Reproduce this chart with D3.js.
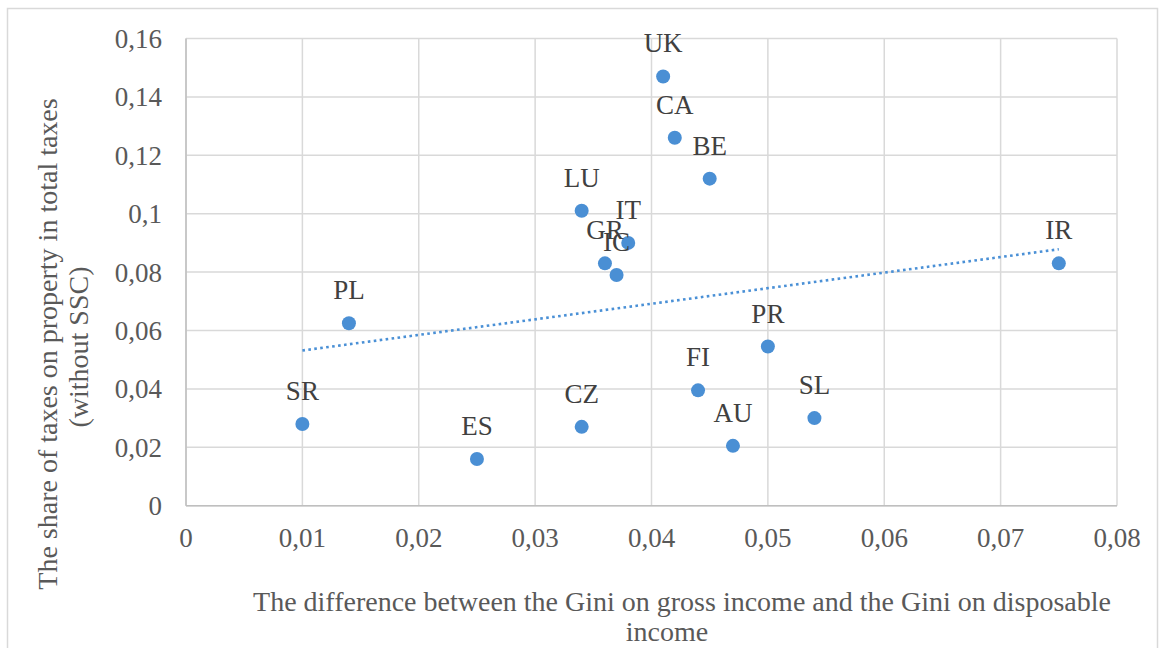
<!DOCTYPE html>
<html lang="en">
<head>
    <meta charset="UTF-8">
    <title>scatter</title>
    <script src="https://cdn.jsdelivr.net/npm/d3@7"></script>
    <style>
        body{ margin:0; background:#fff; }
        svg{ display:block; }
    </style>
</head>
<body>
</body>
<script type="text/javascript">

    // country codes, x = gini difference, y = share of property taxes
    let countries = ["UK","CA","BE","LU","IT","GR","IC","PL","SR","ES","CZ","FI","AU","PR","SL","IR"];
    let giniDiff  = [0.041,0.042,0.045,0.034,0.038,0.036,0.037,0.014,0.010,0.025,0.034,0.044,0.047,0.050,0.054,0.075];
    let propShare = [0.147,0.126,0.112,0.101,0.090,0.083,0.079,0.0625,0.028,0.016,0.027,0.0395,0.0205,0.0545,0.030,0.083];

    let xTicks = [0,0.01,0.02,0.03,0.04,0.05,0.06,0.07,0.08];
    let yTicks = [0,0.02,0.04,0.06,0.08,0.1,0.12,0.14,0.16];

    let xTitle = ["The difference between the Gini on gross income and the Gini on disposable","income"];
    let yTitle = ["The share of taxes on property in total taxes","(without SSC)"];

    let data = countries.map((c,i)=>({name:c, x:giniDiff[i], y:propShare[i]}));

    let font = "'Liberation Serif', 'DejaVu Serif', 'Times New Roman', serif";
    let width = 1159, height = 648;
    let svg = d3.select("body").append("svg")
        .attr("width",width)
        .attr("height",height)
        .attr("font-family",font);

    // outer frame
    svg.append("rect")
        .attr("x",7.5).attr("y",8.5)
        .attr("width",1150).attr("height",660)
        .attr("fill","none")
        .attr("stroke","#d9d9d9")
        .attr("stroke-width",1.5);

    let x = d3.scaleLinear().domain([0,0.08]).range([186,1117]);
    let y = d3.scaleLinear().domain([0,0.16]).range([505.7,38.5]);

    let fmt = v => v===0 ? "0" : String(+v.toFixed(2)).replace(".",",");

    // grid
    svg.append("g").selectAll("line").data(xTicks).join("line")
        .attr("x1",d=>x(d)).attr("x2",d=>x(d))
        .attr("y1",y(0)).attr("y2",y(0.16))
        .attr("stroke","#d9d9d9").attr("stroke-width",1.5);
    svg.append("g").selectAll("line").data(yTicks).join("line")
        .attr("x1",x(0)).attr("x2",x(0.08))
        .attr("y1",d=>y(d)).attr("y2",d=>y(d))
        .attr("stroke","#d9d9d9").attr("stroke-width",1.5);

    // axis lines
    svg.append("line")
        .attr("x1",x(0)).attr("x2",x(0.08))
        .attr("y1",y(0)).attr("y2",y(0))
        .attr("stroke","#bfbfbf").attr("stroke-width",1.5);
    svg.append("line")
        .attr("x1",x(0)).attr("x2",x(0))
        .attr("y1",y(0)).attr("y2",y(0.16))
        .attr("stroke","#bfbfbf").attr("stroke-width",1.5);

    // tick labels
    svg.append("g").selectAll("text").data(xTicks).join("text")
        .attr("x",d=>x(d)).attr("y",547)
        .attr("text-anchor","middle")
        .attr("font-size",27)
        .attr("fill","#595959")
        .text(fmt);
    svg.append("g").selectAll("text").data(yTicks).join("text")
        .attr("x",162).attr("y",d=>y(d)+9.5)
        .attr("text-anchor","end")
        .attr("font-size",27)
        .attr("fill","#595959")
        .text(fmt);

    // linear trendline (least squares)
    let mx = d3.mean(data,d=>d.x), my = d3.mean(data,d=>d.y);
    let slope = d3.sum(data,d=>(d.x-mx)*(d.y-my)) / d3.sum(data,d=>(d.x-mx)*(d.x-mx));
    let icpt = my - slope*mx;
    let ext = d3.extent(data,d=>d.x);
    let line = d3.line().x(d=>x(d)).y(d=>y(icpt+slope*d));
    svg.append("path")
        .datum(ext)
        .attr("d",line)
        .attr("fill","none")
        .attr("stroke","#4a90d6")
        .attr("stroke-width",2.6)
        .attr("stroke-dasharray","2.6,3.4");

    // points
    svg.append("g").selectAll("circle").data(data).join("circle")
        .attr("cx",d=>x(d.x)).attr("cy",d=>y(d.y))
        .attr("r",7)
        .attr("fill","#4a8fd4");

    // labels
    svg.append("g").selectAll("text").data(data).join("text")
        .attr("x",d=>x(d.x)).attr("y",d=>y(d.y)-24)
        .attr("text-anchor","middle")
        .attr("font-size",27)
        .attr("fill","#404040")
        .text(d=>d.name);

    // axis titles
    svg.append("text")
        .attr("x",682).attr("y",611)
        .attr("text-anchor","middle")
        .attr("font-size",28)
        .attr("fill","#595959")
        .text(xTitle[0]);
    svg.append("text")
        .attr("x",667).attr("y",641)
        .attr("text-anchor","middle")
        .attr("font-size",28)
        .attr("fill","#595959")
        .text(xTitle[1]);

    svg.append("text")
        .attr("transform","translate(57,344) rotate(-90)")
        .attr("text-anchor","middle")
        .attr("font-size",28)
        .attr("fill","#595959")
        .text(yTitle[0]);
    svg.append("text")
        .attr("transform","translate(88,347) rotate(-90)")
        .attr("text-anchor","middle")
        .attr("font-size",28)
        .attr("fill","#595959")
        .text(yTitle[1]);

</script>
</html>
